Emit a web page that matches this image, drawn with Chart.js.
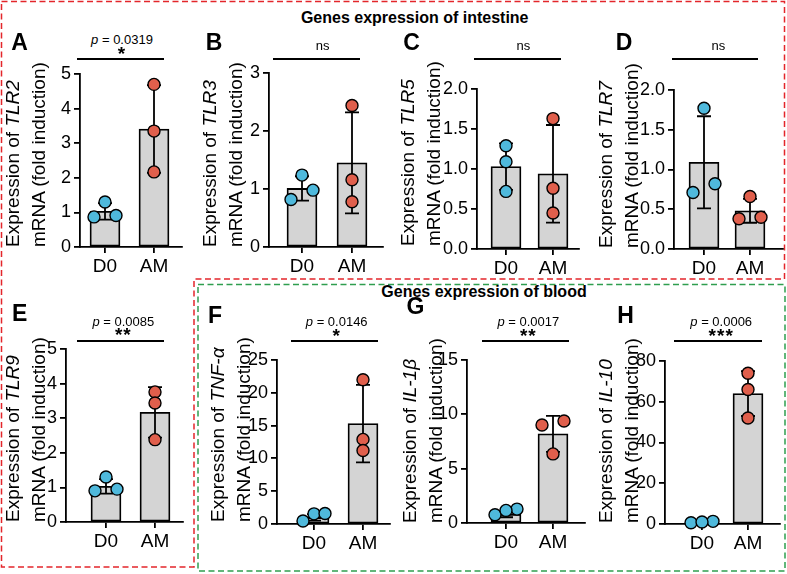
<!DOCTYPE html>
<html>
<head>
<meta charset="utf-8">
<script src="https://cdn.jsdelivr.net/npm/chart.js@4.4.0/dist/chart.umd.min.js"></script>
<style>
  body { margin: 0; background: #fff; }
  #fig { position: relative; width: 787px; height: 574px; overflow: hidden;
         font-family: "Liberation Sans", Arial, sans-serif; color: #000; }
  #fig canvas { position: absolute; }
  .t { position: absolute; white-space: nowrap; line-height: 1; transform: translate(-50%, -50%); }
  .yt { position: absolute; width: 200px; height: 52px; font-size: 19px; line-height: 26px;
        white-space: nowrap; transform: rotate(-90deg); }
  .sig { position: absolute; height: 1.8px; background: #000; }
</style>
</head>
<body>
<div id="fig">
  <svg width="787" height="574" style="position:absolute;left:0;top:0">
    <path d="M1.5 1.5 H784.5 V279 H194 V567 H1.5 Z" fill="none" stroke="#e3262b" stroke-width="1.5" stroke-dasharray="6 3.5"/>
    <rect x="198" y="284.5" width="587" height="286.5" fill="none" stroke="#2f9e4f" stroke-width="1.5" stroke-dasharray="6 3.5"/>
  </svg>
</div>
<script>
const categories = ['D0', 'AM'];
const genes = ['TLR2', 'TLR3', 'TLR5', 'TLR7', 'TLR9', 'TNF-α', 'IL-1β', 'IL-10'];
const letters = ['A', 'B', 'C', 'D', 'E', 'F', 'G', 'H'];
const yMax = [5, 3, 2, 2, 5, 25, 15, 80];
const yStep = [1, 1, 0.5, 0.5, 1, 5, 5, 20];

// individual samples
const d0Values = [
  [1.3, 0.87, 0.91], [1.24, 0.82, 0.98], [1.29, 1.09, 0.72], [1.77, 0.71, 0.82],
  [1.3, 0.9, 0.95], [0.46, 1.55, 1.6], [0.76, 1.28, 1.16], [0.6, 1.3, 1.0]
];
const amValues = [
  [4.7, 3.35, 2.17], [2.44, 1.16, 0.78], [1.63, 0.76, 0.45], [0.66, 0.38, 0.4],
  [3.76, 3.44, 2.38], [22.0, 12.9, 11.2], [9.39, 9.02, 6.36], [74, 66, 52]
];
// bar height (mean) and SD for D0, AM
const means = [
  [1.03, 3.41], [1.01, 1.45], [1.03, 0.94], [1.09, 0.48],
  [1.03, 3.17], [1.0, 15.3], [0.8, 8.2], [1.0, 64]
];
const sds = [
  [0.24, 1.27], [0.21, 0.87], [0.29, 0.61], [0.58, 0.15],
  [0.21, 0.73], [0.5, 5.9], [0.27, 1.65], [0.3, 11]
];
const pValues = ['0.0319', '', '', '', '0.0085', '0.0146', '0.0017', '0.0006'];
const marks = ['*', 'ns', 'ns', 'ns', '**', '*', '**', '***'];

// layout: y-axis x, top (max tick), bottom (zero), axis end, D0 x, AM x
const frames = [
  [80, 74, 247, 182, 105, 154],
  [269, 73, 247, 383, 302, 352],
  [477, 89, 249, 579, 506, 553],
  [674, 90, 249, 783, 704, 750],
  [66, 349, 522, 183, 106, 155],
  [277, 360, 524, 390, 314, 363],
  [467, 360, 523, 585, 506, 553],
  [665, 361, 524, 780, 702, 748]
];
const yTitleAt = [[26, 247], [222.6, 247], [421, 246], [618.6, 248], [26, 522], [231, 522], [422.6, 523], [618.6, 523]];
const letterAt = [[19.5, 42], [214, 42], [411.5, 42], [624, 42], [19.7, 313], [215, 315], [415.5, 306], [625.5, 315]];
// significance bar: y, x1, x2, text centre x
const sigAt = [
  [59.3, 77, 164, 122], [59.3, 273, 360, 322.7], [59.3, 474, 561, 523.3], [59.3, 672, 758, 718.3],
  [340.7, 77, 164, 123.3], [341, 291, 378, 336.7], [341, 482, 569, 528.3], [341, 674, 762, 721.2]
];

const FONT = '"Liberation Sans", Arial, sans-serif';
const LW = 1.8;
const fig = document.getElementById('fig');

function addText(html, x, y, css) {
  const d = document.createElement('div');
  d.className = 't';
  d.innerHTML = html;
  d.style.left = x + 'px';
  d.style.top = y + 'px';
  Object.assign(d.style, css || {});
  fig.appendChild(d);
}

addText('Genes expression of intestine', 414.7, 18, { fontWeight: 'bold', fontSize: '16px' });
addText('Genes expression of blood', 484, 292, { fontWeight: 'bold', fontSize: '16px' });

// spread overlapping points sideways, like a small beeswarm
function spread(vals, pxPerY, pxPerX) {
  const order = vals.map((v, i) => i).sort((a, b) => vals[a] - vals[b]);
  const groups = [];
  let cur = [order[0]];
  for (let k = 1; k < order.length; k++) {
    if ((vals[order[k]] - vals[order[k - 1]]) * pxPerY < 10) cur.push(order[k]);
    else { groups.push(cur); cur = [order[k]]; }
  }
  groups.push(cur);
  const slots = { 1: [0], 2: [-1, 1], 3: [-1, 0, 1] };
  const off = vals.map(() => 0);
  groups.forEach(g => g.forEach((idx, j) => { off[idx] = slots[g.length][j] * 11 / pxPerX; }));
  return off;
}

const errorBars = {
  id: 'errorBars',
  afterDatasetDraw(chart, args) {
    if (args.meta.type !== 'bar') return;
    const ds = chart.data.datasets[args.index];
    const y = chart.scales.y;
    const ctx = chart.ctx;
    ctx.save();
    ctx.strokeStyle = '#000';
    ctx.lineWidth = LW;
    args.meta.data.forEach((bar, k) => {
      const m = ds.data[k].y, e = ds.errors[k];
      const yt = y.getPixelForValue(m + e);
      const yb = y.getPixelForValue(Math.max(0, m - e));
      ctx.beginPath();
      ctx.moveTo(bar.x, yt); ctx.lineTo(bar.x, yb);
      ctx.moveTo(bar.x - 7, yt); ctx.lineTo(bar.x + 7, yt);
      ctx.moveTo(bar.x - 7, yb); ctx.lineTo(bar.x + 7, yb);
      ctx.stroke();
    });
    ctx.restore();
  }
};

frames.forEach((f, i) => {
  const [left, top, bottom, right, x0, x1] = f;
  const padL = 52, padT = 14, padR = 10, axisH = 34;
  const cv = document.createElement('canvas');
  cv.width = right - left + padL + padR;
  cv.height = bottom - top + padT + axisH;
  cv.style.left = (left - padL) + 'px';
  cv.style.top = (top - padT) + 'px';
  fig.appendChild(cv);

  const pxX = x1 - x0;
  const pxY = (bottom - top) / yMax[i];
  const xMin = -(x0 - left) / pxX;
  const xMax = 1 + (right - x1) / pxX;
  const offD = spread(d0Values[i], pxY, pxX);
  const offA = spread(amValues[i], pxY, pxX);
  const dec = yStep[i] < 1;

  const pointStyle = { borderColor: '#000', borderWidth: 1.4, pointRadius: 6, clip: false, order: 0 };
  new Chart(cv, {
    type: 'bar',
    data: {
      datasets: [
        Object.assign({ type: 'scatter', backgroundColor: '#4fb9dc',
          data: d0Values[i].map((v, k) => ({ x: 0 + offD[k], y: v })) }, pointStyle),
        Object.assign({ type: 'scatter', backgroundColor: '#e05f4c',
          data: amValues[i].map((v, k) => ({ x: 1 + offA[k], y: v })) }, pointStyle),
        {
          type: 'bar', order: 1,
          data: means[i].map((m, k) => ({ x: k, y: m })),
          errors: sds[i],
          backgroundColor: '#d4d4d4', borderColor: '#000', borderWidth: LW,
          borderSkipped: false, barThickness: 30
        }
      ]
    },
    options: {
      responsive: false, animation: false, devicePixelRatio: 1,
      layout: { padding: { top: padT, right: padR, left: 0, bottom: 0 }, autoPadding: false },
      plugins: { legend: { display: false }, tooltip: { enabled: false } },
      scales: {
        x: {
          type: 'linear', min: xMin, max: xMax, offset: false,
          grid: { display: true, offset: false, drawOnChartArea: false, drawTicks: true,
                  tickLength: 6, color: '#000', lineWidth: LW },
          border: { color: '#000', width: LW },
          ticks: { color: '#000', font: { family: FONT, size: 19 }, padding: 2,
                   autoSkip: false, maxRotation: 0, callback: v => categories[v] },
          afterBuildTicks: s => { s.ticks = [{ value: 0 }, { value: 1 }]; },
          afterFit: s => { s.height = axisH; }
        },
        y: {
          min: 0, max: yMax[i],
          grid: { display: true, drawOnChartArea: false, drawTicks: true,
                  tickLength: 6, color: '#000', lineWidth: LW },
          border: { color: '#000', width: LW },
          ticks: { stepSize: yStep[i], color: '#000', font: { family: FONT, size: 18 }, padding: 3,
                   callback: v => dec ? v.toFixed(1) : v },
          afterFit: s => { s.width = padL; }
        }
      }
    },
    plugins: [errorBars]
  });

  // y-axis title (two lines, gene name in italics)
  const yt = document.createElement('div');
  yt.className = 'yt';
  yt.innerHTML = 'Expression of <i>' + genes[i] + '</i><br>mRNA (fold induction)';
  yt.style.left = (yTitleAt[i][0] - 100) + 'px';
  yt.style.top = (yTitleAt[i][1] - 100 - 26) + 'px';
  fig.appendChild(yt);

  addText(letters[i], letterAt[i][0], letterAt[i][1], { fontWeight: 'bold', fontSize: '23px' });

  const [sy, sx1, sx2, tx] = sigAt[i];
  const bar = document.createElement('div');
  bar.className = 'sig';
  bar.style.left = sx1 + 'px';
  bar.style.top = (sy - 0.9) + 'px';
  bar.style.width = (sx2 - sx1) + 'px';
  fig.appendChild(bar);
  if (pValues[i]) {
    addText('<i>p</i> = ' + pValues[i], tx, sy - 20, { fontSize: '13px' });
    addText(marks[i], tx, sy - 9 + 2.5, { fontSize: '19px', fontWeight: 'bold', letterSpacing: '1px' });
  } else {
    addText(marks[i], tx, sy - 14, { fontSize: '13px' });
  }
});
</script>
</body>
</html>
